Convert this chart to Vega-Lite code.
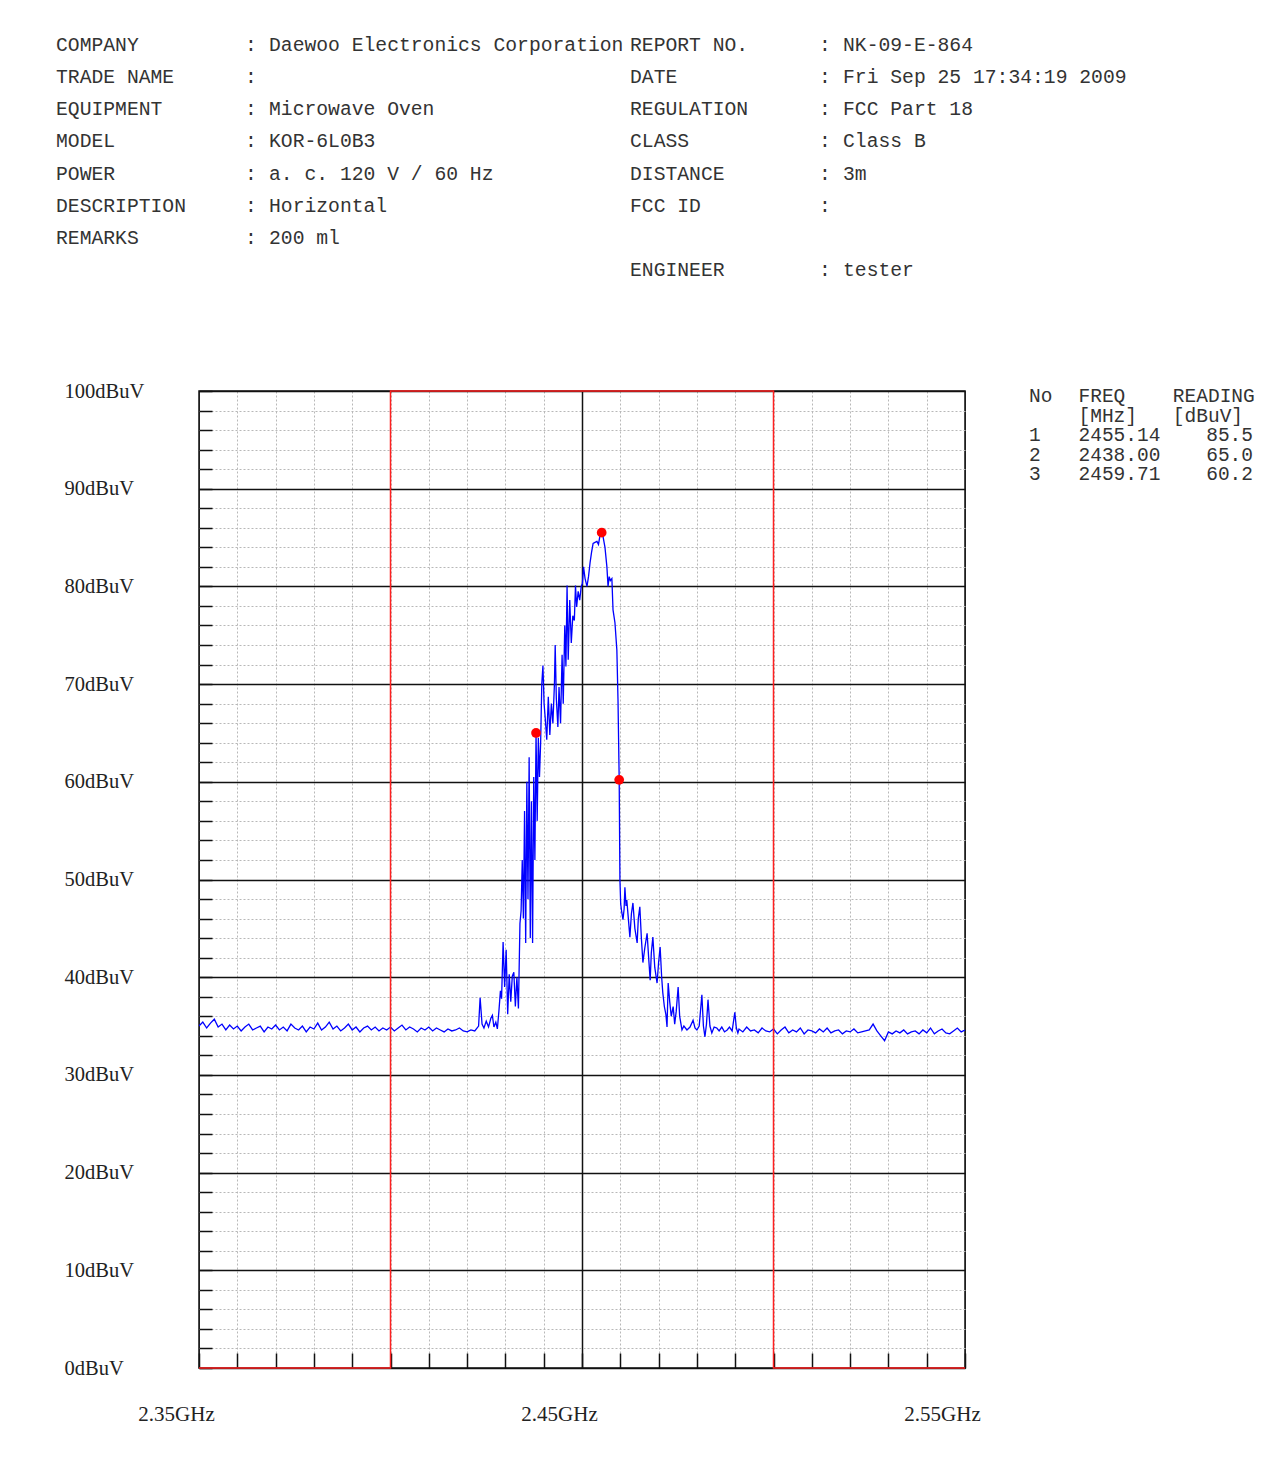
{
  "$schema": "https://vega.github.io/schema/vega-lite/v6.json",
  "width": 766,
  "height": 977,
  "autosize": {"type": "none"},
  "padding": {"left": 199, "top": 391, "right": 322, "bottom": 115},
  "background": "white",
  "config": {
    "view": {"stroke": "#111111", "strokeWidth": 1.5},
    "axis": {"domain": false}
  },
  "datasets": {
    "trace": [
      {"freq":2350,"level":35.0},{"freq":2351,"level":35.4},{"freq":2352,"level":34.8},{"freq":2353,"level":35.3},{"freq":2354,"level":35.7},
      {"freq":2355,"level":34.9},{"freq":2356,"level":35.2},{"freq":2357,"level":34.6},{"freq":2358,"level":35.1},{"freq":2359,"level":34.7},
      {"freq":2360,"level":35.0},{"freq":2361,"level":34.5},{"freq":2362,"level":34.9},{"freq":2363,"level":35.2},{"freq":2364,"level":34.6},
      {"freq":2365,"level":34.8},{"freq":2366,"level":35.0},{"freq":2367,"level":34.4},{"freq":2368,"level":34.9},{"freq":2369,"level":34.7},
      {"freq":2370,"level":35.1},{"freq":2371,"level":34.6},{"freq":2372,"level":34.9},{"freq":2373,"level":34.5},{"freq":2374,"level":35.2},
      {"freq":2375,"level":34.8},{"freq":2376,"level":34.6},{"freq":2377,"level":35.0},{"freq":2378,"level":34.4},{"freq":2379,"level":34.9},
      {"freq":2380,"level":34.7},{"freq":2381,"level":35.3},{"freq":2382,"level":34.6},{"freq":2383,"level":34.9},{"freq":2384,"level":35.4},
      {"freq":2385,"level":34.7},{"freq":2386,"level":35.0},{"freq":2387,"level":34.5},{"freq":2388,"level":34.8},{"freq":2389,"level":35.2},
      {"freq":2390,"level":34.6},{"freq":2391,"level":34.9},{"freq":2392,"level":34.4},{"freq":2393,"level":34.8},{"freq":2394,"level":35.0},
      {"freq":2395,"level":34.6},{"freq":2396,"level":34.9},{"freq":2397,"level":34.5},{"freq":2398,"level":34.8},{"freq":2399,"level":34.6},
      {"freq":2400,"level":34.9},{"freq":2401,"level":34.5},{"freq":2402,"level":34.8},{"freq":2403,"level":35.1},{"freq":2404,"level":34.6},
      {"freq":2405,"level":34.9},{"freq":2406,"level":34.7},{"freq":2407,"level":34.4},{"freq":2408,"level":34.8},{"freq":2409,"level":34.6},
      {"freq":2410,"level":34.9},{"freq":2411,"level":34.5},{"freq":2412,"level":34.8},{"freq":2413,"level":34.6},{"freq":2414,"level":34.4},
      {"freq":2415,"level":34.7},{"freq":2416,"level":34.5},{"freq":2417,"level":34.6},{"freq":2418,"level":34.8},{"freq":2419,"level":34.5},
      {"freq":2420,"level":34.4},{"freq":2421,"level":34.6},{"freq":2422,"level":34.5},{"freq":2423,"level":35.0},
      {"freq":2423.4,"level":37.9},{"freq":2423.9,"level":35.2},{"freq":2424.4,"level":34.8},{"freq":2425.0,"level":35.5},{"freq":2425.6,"level":34.9},
      {"freq":2426.2,"level":35.8},{"freq":2426.6,"level":36.1},{"freq":2427.0,"level":34.9},{"freq":2427.5,"level":35.4},{"freq":2427.9,"level":34.7},
      {"freq":2428.3,"level":36.5},{"freq":2428.7,"level":38.6},{"freq":2429.0,"level":37.8},{"freq":2429.4,"level":43.6},{"freq":2429.8,"level":39.0},
      {"freq":2430.2,"level":42.8},{"freq":2430.6,"level":36.2},{"freq":2431.0,"level":40.3},{"freq":2431.4,"level":37.5},{"freq":2431.8,"level":40.1},
      {"freq":2432.2,"level":40.5},{"freq":2432.6,"level":37.0},{"freq":2433.0,"level":40.0},{"freq":2433.4,"level":36.8},{"freq":2433.8,"level":45.5},
      {"freq":2434.1,"level":46.8},{"freq":2434.4,"level":52.0},{"freq":2434.7,"level":46.0},{"freq":2435.0,"level":57.0},{"freq":2435.3,"level":43.5},
      {"freq":2435.6,"level":60.0},{"freq":2435.9,"level":48.0},{"freq":2436.2,"level":62.5},{"freq":2436.5,"level":44.0},{"freq":2436.8,"level":58.0},
      {"freq":2437.1,"level":43.5},{"freq":2437.4,"level":60.5},{"freq":2437.7,"level":52.0},{"freq":2438.0,"level":65.0},{"freq":2438.3,"level":56.0},
      {"freq":2438.6,"level":64.5},{"freq":2438.9,"level":60.5},{"freq":2439.2,"level":64.0},{"freq":2439.5,"level":70.0},{"freq":2439.8,"level":71.9},
      {"freq":2440.1,"level":68.0},{"freq":2440.4,"level":66.5},{"freq":2440.8,"level":64.3},{"freq":2441.2,"level":68.7},{"freq":2441.6,"level":64.8},
      {"freq":2442.0,"level":68.0},{"freq":2442.4,"level":66.0},{"freq":2442.8,"level":70.0},{"freq":2443.0,"level":74.0},{"freq":2443.3,"level":68.5},
      {"freq":2443.7,"level":65.6},{"freq":2444.0,"level":69.7},{"freq":2444.4,"level":66.0},{"freq":2444.8,"level":73.0},{"freq":2445.1,"level":68.0},
      {"freq":2445.5,"level":76.0},{"freq":2445.8,"level":71.8},{"freq":2446.1,"level":80.1},{"freq":2446.4,"level":72.5},{"freq":2446.8,"level":78.6},
      {"freq":2447.2,"level":74.2},{"freq":2447.6,"level":77.0},{"freq":2448.0,"level":76.5},{"freq":2448.3,"level":80.1},{"freq":2448.6,"level":77.9},
      {"freq":2449.0,"level":79.5},{"freq":2449.4,"level":78.6},{"freq":2449.8,"level":80.0},{"freq":2450.1,"level":80.3},{"freq":2450.4,"level":82.0},
      {"freq":2450.8,"level":80.8},{"freq":2451.3,"level":80.0},{"freq":2451.7,"level":81.0},{"freq":2452.1,"level":82.4},{"freq":2452.5,"level":83.5},
      {"freq":2452.9,"level":84.4},{"freq":2453.4,"level":84.5},{"freq":2453.9,"level":84.6},{"freq":2454.3,"level":84.3},{"freq":2454.7,"level":85.2},
      {"freq":2455.14,"level":85.5},{"freq":2455.5,"level":85.1},{"freq":2456.0,"level":84.0},{"freq":2456.5,"level":82.0},{"freq":2456.8,"level":80.0},
      {"freq":2457.1,"level":81.0},{"freq":2457.4,"level":80.6},{"freq":2457.8,"level":80.8},{"freq":2458.1,"level":77.6},{"freq":2458.6,"level":76.3},
      {"freq":2459.1,"level":73.5},{"freq":2459.4,"level":68.4},{"freq":2459.71,"level":60.2},{"freq":2459.9,"level":50.0},{"freq":2460.1,"level":47.5},
      {"freq":2460.4,"level":46.6},{"freq":2460.7,"level":45.9},{"freq":2461.0,"level":47.0},{"freq":2461.2,"level":49.2},{"freq":2461.5,"level":47.3},
      {"freq":2461.7,"level":47.9},{"freq":2462.1,"level":46.0},{"freq":2462.5,"level":44.1},{"freq":2462.9,"level":46.5},{"freq":2463.3,"level":47.6},
      {"freq":2463.8,"level":45.0},{"freq":2464.4,"level":43.5},{"freq":2464.7,"level":46.0},{"freq":2465.1,"level":47.2},{"freq":2465.5,"level":44.0},
      {"freq":2465.9,"level":41.5},{"freq":2466.4,"level":43.0},{"freq":2467.0,"level":44.5},{"freq":2467.4,"level":42.0},{"freq":2467.8,"level":39.7},
      {"freq":2468.1,"level":42.5},{"freq":2468.5,"level":44.1},{"freq":2469.0,"level":41.0},{"freq":2469.6,"level":39.4},{"freq":2470.0,"level":41.5},
      {"freq":2470.4,"level":43.1},{"freq":2470.8,"level":40.0},{"freq":2471.1,"level":38.4},{"freq":2471.5,"level":37.0},{"freq":2471.9,"level":36.2},
      {"freq":2472.2,"level":34.9},{"freq":2472.5,"level":39.4},{"freq":2472.9,"level":37.5},{"freq":2473.3,"level":36.0},{"freq":2473.8,"level":37.0},
      {"freq":2474.2,"level":35.2},{"freq":2474.6,"level":36.5},{"freq":2475.1,"level":39.0},{"freq":2475.5,"level":36.0},{"freq":2476.1,"level":34.6},
      {"freq":2476.6,"level":35.0},{"freq":2477.4,"level":34.6},{"freq":2478.2,"level":34.9},{"freq":2479.0,"level":35.6},{"freq":2479.5,"level":34.8},
      {"freq":2480.0,"level":34.6},{"freq":2480.6,"level":35.0},{"freq":2481.3,"level":38.2},{"freq":2481.7,"level":35.0},{"freq":2482.1,"level":33.9},
      {"freq":2482.5,"level":35.2},{"freq":2482.9,"level":37.7},{"freq":2483.4,"level":35.0},{"freq":2483.9,"level":34.3},{"freq":2484.5,"level":34.9},
      {"freq":2485.2,"level":34.8},{"freq":2485.8,"level":34.5},{"freq":2486.5,"level":34.9},{"freq":2487.2,"level":34.4},{"freq":2487.9,"level":34.6},
      {"freq":2488.5,"level":34.9},{"freq":2489.2,"level":34.5},{"freq":2489.9,"level":36.4},{"freq":2490.3,"level":34.8},{"freq":2490.7,"level":34.3},
      {"freq":2491,"level":34.7},{"freq":2492,"level":34.4},{"freq":2493,"level":34.9},{"freq":2494,"level":34.5},{"freq":2495,"level":34.6},
      {"freq":2496,"level":34.3},{"freq":2497,"level":34.8},{"freq":2498,"level":34.5},{"freq":2499,"level":34.4},{"freq":2500,"level":34.7},
      {"freq":2501,"level":34.2},{"freq":2502,"level":34.6},{"freq":2503,"level":34.9},{"freq":2504,"level":34.3},{"freq":2505,"level":34.6},
      {"freq":2506,"level":34.4},{"freq":2507,"level":34.8},{"freq":2508,"level":34.2},{"freq":2509,"level":34.6},{"freq":2510,"level":34.5},
      {"freq":2511,"level":34.3},{"freq":2512,"level":34.7},{"freq":2513,"level":34.4},{"freq":2514,"level":34.8},{"freq":2515,"level":34.3},
      {"freq":2516,"level":34.5},{"freq":2517,"level":34.6},{"freq":2518,"level":34.2},{"freq":2519,"level":34.5},{"freq":2520,"level":34.4},
      {"freq":2521,"level":34.7},{"freq":2522,"level":34.3},{"freq":2523,"level":34.4},{"freq":2524,"level":34.5},{"freq":2525,"level":34.6},
      {"freq":2526,"level":35.2},{"freq":2527,"level":34.5},{"freq":2528,"level":34.0},{"freq":2529,"level":33.5},{"freq":2530,"level":34.4},
      {"freq":2531,"level":34.2},{"freq":2532,"level":34.5},{"freq":2533,"level":34.3},{"freq":2534,"level":34.6},{"freq":2535,"level":34.2},
      {"freq":2536,"level":34.4},{"freq":2537,"level":34.5},{"freq":2538,"level":34.2},{"freq":2539,"level":34.6},{"freq":2540,"level":34.3},
      {"freq":2541,"level":34.8},{"freq":2542,"level":34.2},{"freq":2543,"level":34.5},{"freq":2544,"level":34.7},{"freq":2545,"level":34.3},
      {"freq":2546,"level":34.2},{"freq":2547,"level":34.5},{"freq":2548,"level":34.8},{"freq":2549,"level":34.4},{"freq":2550,"level":34.6}
    ],
    "limit": [
      {"freq":2350,"limit":0},{"freq":2400,"limit":100},{"freq":2500,"limit":0},{"freq":2550,"limit":0}
    ],
    "markers": [
      {"no":1,"freq":2455.14,"reading":85.5},
      {"no":2,"freq":2438.00,"reading":65.0},
      {"no":3,"freq":2459.71,"reading":60.2}
    ],
    "tableHead": [
      {"row":-1,"no":"No","freq":"FREQ","reading":"READING"},
      {"row":0,"no":"","freq":"[MHz]","reading":"[dBuV]"}
    ],
    "header": [
      {"side":"L","line":1,"key":"COMPANY","value":"Daewoo Electronics Corporation"},
      {"side":"L","line":2,"key":"TRADE NAME","value":""},
      {"side":"L","line":3,"key":"EQUIPMENT","value":"Microwave Oven"},
      {"side":"L","line":4,"key":"MODEL","value":"KOR-6L0B3"},
      {"side":"L","line":5,"key":"POWER","value":"a. c. 120 V / 60 Hz"},
      {"side":"L","line":6,"key":"DESCRIPTION","value":"Horizontal"},
      {"side":"L","line":7,"key":"REMARKS","value":"200 ml"},
      {"side":"R","line":1,"key":"REPORT NO.","value":"NK-09-E-864"},
      {"side":"R","line":2,"key":"DATE","value":"Fri Sep 25 17:34:19 2009"},
      {"side":"R","line":3,"key":"REGULATION","value":"FCC Part 18"},
      {"side":"R","line":4,"key":"CLASS","value":"Class B"},
      {"side":"R","line":5,"key":"DISTANCE","value":"3m"},
      {"side":"R","line":6,"key":"FCC ID","value":""},
      {"side":"R","line":8,"key":"ENGINEER","value":"tester"}
    ]
  },
  "layer": [
    {
      "layer": [
        {
          "data": {"name": "trace"},
          "mark": {"type": "line", "color": "#0000ff", "strokeWidth": 1.3, "clip": true},
          "encoding": {
            "x": {
              "field": "freq", "type": "quantitative",
              "scale": {"domain": [2350, 2550], "nice": false, "zero": false},
              "axis": {
                "title": null,
                "values": [2350,2360,2370,2380,2390,2400,2410,2420,2430,2440,2450,2460,2470,2480,2490,2500,2510,2520,2530,2540,2550],
                "tickCount": 200,
                "grid": true,
                "gridColor": {"condition": {"test": "datum.value === 2450 || datum.value === 2350 || datum.value === 2550", "value": "#111111"}, "value": "#b8b8b8"},
                "gridDash": {"condition": {"test": "datum.value === 2450 || datum.value === 2350 || datum.value === 2550", "value": [1, 0]}, "value": [2, 2]},
                "gridWidth": {"condition": {"test": "datum.value === 2450", "value": 1.5}, "value": 1},
                "ticks": true,
                "tickSize": -15,
                "tickColor": "#111111",
                "tickWidth": 1.5,
                "labelExpr": "(datum.value - 2350) % 100 === 0 ? format(datum.value / 1000, '.2f') + 'GHz' : ''",
                "labelFlush": false,
                "labelOverlap": false,
                "labelOffset": -23,
                "labelPadding": 50,
                "labelFont": "Liberation Serif",
                "labelFontSize": 21,
                "labelColor": "#222222"
              }
            },
            "y": {
              "field": "level", "type": "quantitative",
              "scale": {"domain": [0, 100], "nice": false, "zero": false},
              "axis": {
                "title": null,
                "values": [0,2,4,6,8,10,12,14,16,18,20,22,24,26,28,30,32,34,36,38,40,42,44,46,48,50,52,54,56,58,60,62,64,66,68,70,72,74,76,78,80,82,84,86,88,90,92,94,96,98,100],
                "tickCount": 200,
                "grid": true,
                "gridColor": {"condition": {"test": "datum.value % 10 === 0", "value": "#111111"}, "value": "#b8b8b8"},
                "gridDash": {"condition": {"test": "datum.value % 10 === 0", "value": [1, 0]}, "value": [2, 2]},
                "gridWidth": {"condition": {"test": "datum.value % 10 === 0", "value": 1.5}, "value": 1},
                "ticks": true,
                "tickSize": -13,
                "tickColor": "#111111",
                "tickWidth": 1.5,
                "labelExpr": "datum.value % 10 === 0 ? datum.value + 'dBuV' : ''",
                "labelAlign": "left",
                "labelBaseline": "middle",
                "labelFlush": false,
                "labelOverlap": false,
                "labelPadding": 148,
                "labelFont": "Liberation Serif",
                "labelFontSize": 20.5,
                "labelColor": "#222222"
              }
            }
          }
        },
        {
          "data": {"name": "limit"},
          "mark": {"type": "line", "color": "#ff2020", "strokeWidth": 1.5, "interpolate": "step-after"},
          "encoding": {
            "x": {"field": "freq", "type": "quantitative"},
            "y": {"field": "limit", "type": "quantitative"}
          }
        },
        {
          "data": {"name": "markers"},
          "mark": {"type": "point", "filled": true, "color": "#ff0000", "size": 95, "opacity": 1},
          "encoding": {
            "x": {"field": "freq", "type": "quantitative"},
            "y": {"field": "reading", "type": "quantitative"}
          }
        }
      ]
    },
    {
      "data": {"name": "header"},
      "encoding": {
        "x": {"field": "side", "type": "nominal", "scale": {"type": "point", "domain": ["L", "R"], "range": [-143, 431], "padding": 0}, "axis": null},
        "y": {"field": "line", "type": "quantitative", "scale": {"domain": [1, 8], "range": [-346, -121], "nice": false, "zero": false}, "axis": null}
      },
      "layer": [
        {
          "mark": {"type": "text", "align": "left", "baseline": "middle", "font": "Liberation Mono", "fontSize": 19.7, "color": "#333333"},
          "encoding": {"text": {"field": "key"}}
        },
        {
          "mark": {"type": "text", "align": "left", "baseline": "middle", "font": "Liberation Mono", "fontSize": 19.7, "color": "#333333", "dx": 189},
          "encoding": {"text": {"value": ":"}}
        },
        {
          "mark": {"type": "text", "align": "left", "baseline": "middle", "font": "Liberation Mono", "fontSize": 19.7, "color": "#333333", "dx": 213},
          "encoding": {"text": {"field": "value"}}
        }
      ]
    },
    {
      "layer": [
        {
          "data": {"name": "tableHead"},
          "mark": {"type": "text", "align": "left", "baseline": "middle", "font": "Liberation Mono", "fontSize": 19.5, "color": "#333333"},
          "encoding": {
            "x": {"datum": 0, "type": "quantitative", "scale": {"domain": [0, 19], "range": [830, 1054], "nice": false, "zero": false}, "axis": null},
            "y": {"field": "row", "type": "quantitative", "scale": {"domain": [-1, 3], "range": [5, 83], "nice": false, "zero": false}, "axis": null},
            "text": {"field": "no"}
          }
        },
        {
          "data": {"name": "tableHead"},
          "mark": {"type": "text", "align": "left", "baseline": "middle", "font": "Liberation Mono", "fontSize": 19.5, "color": "#333333"},
          "encoding": {
            "x": {"datum": 4.2, "type": "quantitative"},
            "y": {"field": "row", "type": "quantitative"},
            "text": {"field": "freq"}
          }
        },
        {
          "data": {"name": "tableHead"},
          "mark": {"type": "text", "align": "left", "baseline": "middle", "font": "Liberation Mono", "fontSize": 19.5, "color": "#333333"},
          "encoding": {
            "x": {"datum": 12.2, "type": "quantitative"},
            "y": {"field": "row", "type": "quantitative"},
            "text": {"field": "reading"}
          }
        },
        {
          "data": {"name": "markers"},
          "mark": {"type": "text", "align": "left", "baseline": "middle", "font": "Liberation Mono", "fontSize": 19.5, "color": "#333333"},
          "encoding": {
            "x": {"datum": 0, "type": "quantitative"},
            "y": {"field": "no", "type": "quantitative"},
            "text": {"field": "no", "type": "quantitative", "format": "d"}
          }
        },
        {
          "data": {"name": "markers"},
          "mark": {"type": "text", "align": "left", "baseline": "middle", "font": "Liberation Mono", "fontSize": 19.5, "color": "#333333"},
          "encoding": {
            "x": {"datum": 4.2, "type": "quantitative"},
            "y": {"field": "no", "type": "quantitative"},
            "text": {"field": "freq", "type": "quantitative", "format": ".2f"}
          }
        },
        {
          "data": {"name": "markers"},
          "mark": {"type": "text", "align": "right", "baseline": "middle", "font": "Liberation Mono", "fontSize": 19.5, "color": "#333333"},
          "encoding": {
            "x": {"datum": 19, "type": "quantitative"},
            "y": {"field": "no", "type": "quantitative"},
            "text": {"field": "reading", "type": "quantitative", "format": ".1f"}
          }
        }
      ]
    }
  ],
  "resolve": {"scale": {"x": "independent", "y": "independent"}}
}
